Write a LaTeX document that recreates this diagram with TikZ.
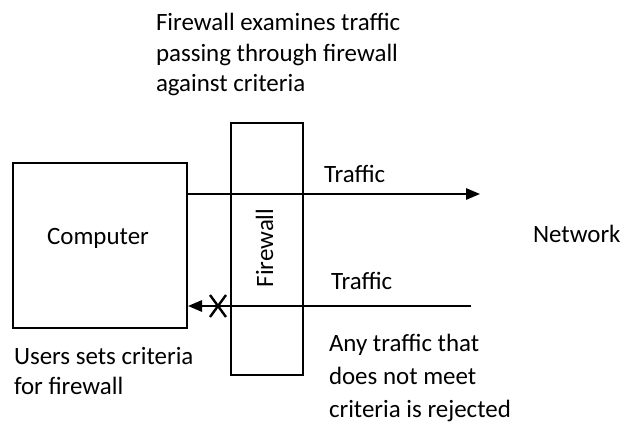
\documentclass[tikz,border=0pt]{standalone}
\usepackage{fontspec}
\setmainfont{Carlito}
\usetikzlibrary{arrows.meta}
\begin{document}
\begin{tikzpicture}[x=0.75pt,y=-0.75pt,
  line width=1.5pt,
  txt/.style={font=\fontsize{18.7}{22.9}\selectfont, inner sep=0pt, align=left},
  boxnode/.style={draw, rectangle, inner sep=0pt},
  arr/.style={-{Triangle[length=10.5pt,width=8.5pt]}}]
\useasboundingbox[fill=white] (0,0) rectangle (624,423);
% boxes
\node[boxnode, minimum width=130.5pt, minimum height=123.75pt] (comp) at (100,245.5) {};
\node[txt, anchor=base] (complbl) at (98,245) {Computer};
\node[boxnode, minimum width=54pt, minimum height=189pt] (fw) at (267,249) {};
\node[txt, rotate=90, anchor=base] (fwlbl) at (273,248) {Firewall};
% texts (anchored at the baseline of their last line)
\node[txt, anchor=base west] (top) at (155,92) {Firewall examines traffic\\passing through firewall\\against criteria};
\node[txt, anchor=base west] (users) at (13,395) {Users sets criteria\\for firewall};
\node[txt, anchor=base west, font=\fontsize{18.7}{24.4}\selectfont] (reject) at (328,417) {Any traffic that\\does not meet\\criteria is rejected};
\node[txt, anchor=base west] (t1) at (323,183) {Traffic};
\node[txt, anchor=base west] (t2) at (330,290) {Traffic};
\node[txt, anchor=base west] (net) at (532,243) {Network};
% connectors
\coordinate (outend) at (480,194);
\coordinate (instart) at (471,306);
\draw[arr] (comp.east |- outend) -- (outend);
\draw[arr] (instart) -- (comp.east |- instart);
% rejection mark
\coordinate (xm) at (218,306);
\draw[line width=1.8pt] ([shift={(-8,-11)}]xm) -- ([shift={(8,11)}]xm)
      ([shift={(-8,11)}]xm) -- ([shift={(8,-11)}]xm);
\end{tikzpicture}
\end{document}
